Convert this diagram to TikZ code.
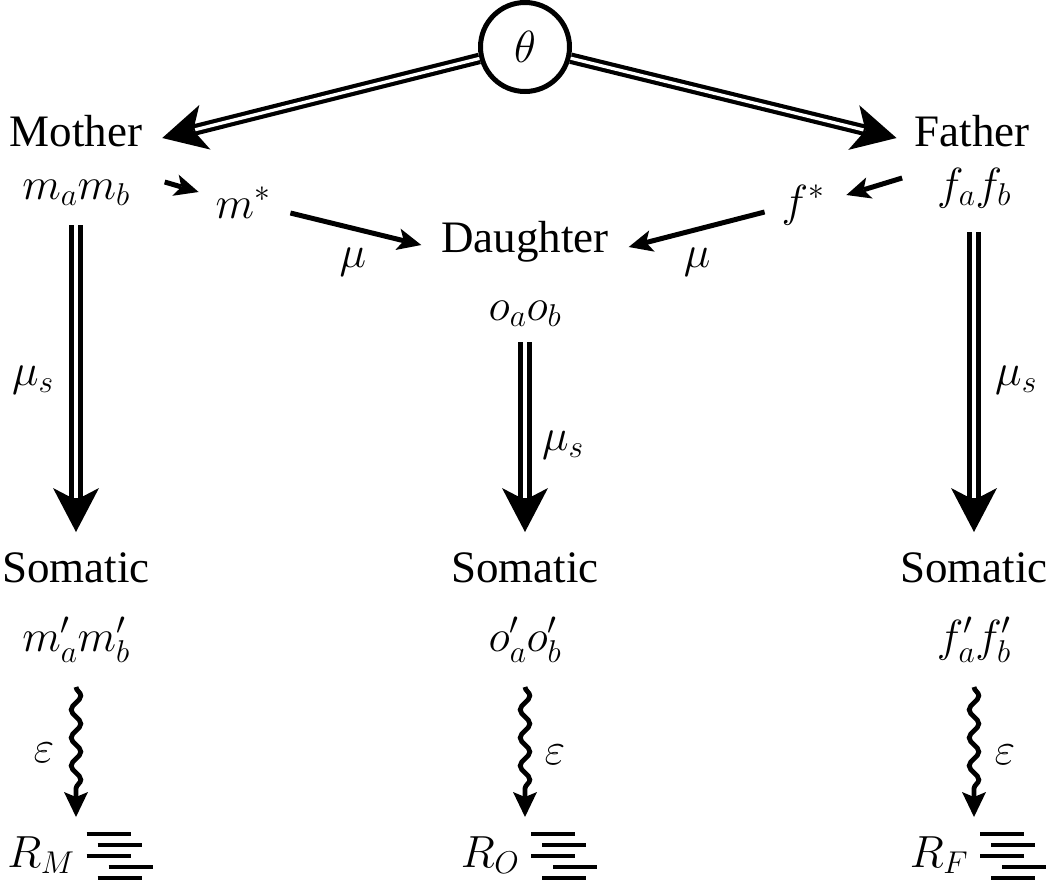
\RequirePackage{fix-cm}
\documentclass[tikz,border=0pt]{standalone}
\usepackage{fontspec}
\setmainfont{Liberation Serif}
\usetikzlibrary{arrows.meta,decorations.pathmorphing}
\begin{document}
\begin{tikzpicture}[x=1pt,y=-1pt,
  lbl/.style={inner sep=0pt, outer sep=0pt, font=\fontsize{45}{54}\selectfont, anchor=base},
  tag/.style={inner sep=0pt, outer sep=0pt, font=\fontsize{45}{54}\selectfont, anchor=center},
  thinarrow/.style={line width=5pt, -{Stealth[length=24pt,width=22pt,inset=6pt,line width=0pt]}},
  dblarrow/.style={line width=#1, -{Stealth[length=44pt,width=46pt,inset=12pt,line width=0pt]},
     postaction={draw=white, line width=3.2pt, arrows=-, shorten >=34pt}},
  wavyarrow/.style={line width=4.8pt, decorate,
     decoration={snake, amplitude=4.8pt, segment length=28pt, post length=26pt},
     -{Stealth[length=25pt,width=24pt,inset=5pt,line width=0pt]}},
  hatch/.style={line width=3.8pt}]
\useasboundingbox (0,0) rectangle (1050,881);

% top
\node[circle, draw, line width=5pt, minimum size=89pt, inner sep=0pt, fill=white,
      font=\fontsize{45}{54}\selectfont] (theta) at (525,47) {$\theta$};

% Mother column
\node[lbl] (mother) at (76,146) {Mother};
\node[lbl] (mab) at (76,199) {$m_am_b$};
\node[lbl] (mstar) at (243,218) {$m^*$};
\node[lbl] (somM) at (76,582) {Somatic};
\node[lbl] (mp) at (76,651) {$m'_am'_b$};
\node[lbl] (RM) at (41,867) {$R_M$};

% Daughter column
\node[lbl] (daughter) at (525,252) {Daughter};
\node[lbl] (oab) at (525,320) {$o_ao_b$};
\node[lbl] (somO) at (525,582) {Somatic};
\node[lbl] (op) at (525,651) {$o'_ao'_b$};
\node[lbl] (RO) at (490,867) {$R_O$};

% Father column
\node[lbl] (father) at (972,146) {Father};
\node[lbl] (fab) at (974,199) {$f_af_b$};
\node[lbl] (fstar) at (803,216) {$f^*$};
\node[lbl] (somF) at (974,582) {Somatic};
\node[lbl] (fp) at (974,651) {$f'_af'_b$};
\node[lbl] (RF) at (939,867) {$R_F$};

% labels
\node[tag] (muL) at (353,262) {$\mu$};
\node[tag] (muR) at (697,262) {$\mu$};
\node[tag] (musM) at (33,380) {$\mu_s$};
\node[tag] (musO) at (563,445) {$\mu_s$};
\node[tag] (musF) at (1016,380) {$\mu_s$};
\node[tag] (epsM) at (44,753) {$\varepsilon$};
\node[tag] (epsO) at (555,755) {$\varepsilon$};
\node[tag] (epsF) at (1005,755) {$\varepsilon$};

% theta arrows
\draw[dblarrow=11.5pt] (theta) -- ([shift={(20pt,8pt)}]mother.base east);
\draw[dblarrow=11.5pt] (theta) -- ([shift={(-18pt,8pt)}]father.base west);

% gamete arrows
\draw[thinarrow] ([shift={(35pt,17pt)}]mab.base east) -- ([shift={(-17pt,26pt)}]mstar.base west);
\draw[thinarrow] ([shift={(20pt,5pt)}]mstar.base east) -- ([shift={(-20pt,7pt)}]daughter.base west);
\draw[thinarrow] ([shift={(-35pt,21pt)}]fab.base west) -- ([shift={(22pt,21pt)}]fstar.base east);
\draw[thinarrow] ([shift={(-17pt,4pt)}]fstar.base west) -- ([shift={(20pt,5pt)}]daughter.base east);

% somatic arrows
\draw[dblarrow=14.5pt] ([yshift=-26pt]mab.base) -- ([yshift=50pt]somM.base);
\draw[dblarrow=14.5pt] ([yshift=-22pt]oab.base) -- ([yshift=50pt]somO.base);
\draw[dblarrow=14.5pt] ([yshift=-33pt]fab.base) -- ([yshift=50pt]somF.base);

% wavy arrows
\draw[wavyarrow] ([yshift=-36pt]mp.base) -- ([shift={(35pt,50pt)}]RM.base);
\draw[wavyarrow] ([yshift=-36pt]op.base) -- ([shift={(35pt,50pt)}]RO.base);
\draw[wavyarrow] ([yshift=-36pt]fp.base) -- ([shift={(35pt,50pt)}]RF.base);

% hatches
\foreach \r in {RM,RO,RF}{
  \foreach \dx/\dy in {12/33, 23/22, 12/11, 34/0, 23/-11}{
    \draw[hatch] ([shift={(\dx pt,\dy pt)}]\r.base east) -- ++(44,0);
  }
}
\end{tikzpicture}
\end{document}
